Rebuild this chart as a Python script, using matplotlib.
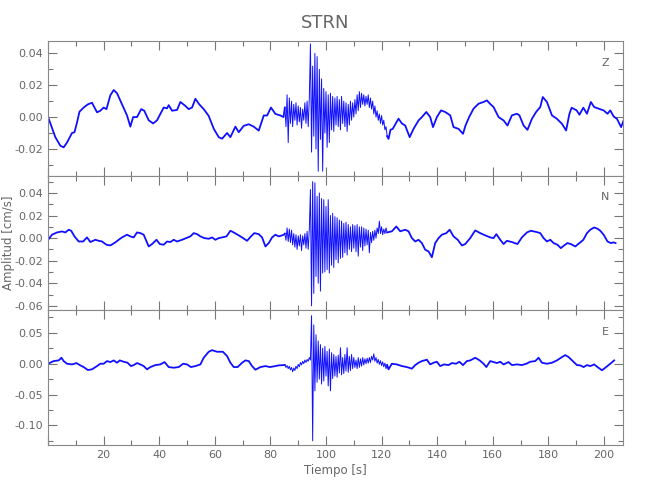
import numpy as np
import matplotlib
matplotlib.use('Agg')
import matplotlib.pyplot as plt
from matplotlib.ticker import MultipleLocator, FormatStrFormatter, FuncFormatter

# ====================================================================
# STRN - three component seismogram (Z, N, E)
# ====================================================================

# --- data ---
# quiet parts: (time [s], amplitude [cm/s]) samples
z_t = [0, 2.6, 4.4, 5.6, 6.8, 8.6, 9.5, 10.4, 11.3, 12.8, 14.3, 15.8, 17.6, 18.8, 20.0, 21.0,
       22.4, 23.6, 24.8, 26.6, 28.4, 29.6, 30.6, 32.0, 33.5, 34.6, 36.2, 37.8, 39.2, 40.4, 41.6,
       42.8, 43.4, 44.6, 46.4, 47.6, 49.4, 50.6, 51.8, 53.0, 54.4, 56.0, 57.8, 59.6, 61.4, 62.6,
       64.4, 65.6, 67.4, 68.6, 70.4, 72.2, 74.0, 75.8, 77.6, 78.8, 80.2, 81.8, 83.6, 84.7,
       122.5, 123.2, 124.0, 126.1, 127.3, 128.5, 130.1, 131.5, 133.3, 134.5, 136.1, 137.5, 138.5,
       139.9, 141.4, 142.9, 144.7, 145.9, 147.7, 149.3, 150.2, 151.5, 153.1, 154.9, 156.7, 157.9,
       159.0, 160.3, 162.1, 163.9, 165.3, 166.9, 168.7, 169.6, 171.1, 172.5, 174.1, 175.6, 177.1,
       178.0, 179.5, 181.3, 183.1, 184.9, 186.4, 187.6, 188.4, 190.2, 191.2, 192.6, 193.9, 195.3,
       196.5, 198.1, 199.9, 201.3, 202.3, 203.5, 204.7, 206.2, 207.0]
z_v = [0.0, -0.0126, -0.018, -0.019, -0.016, -0.010, -0.0095, -0.0034, 0.0034, 0.006, 0.008,
       0.009, 0.003, 0.004, 0.006, 0.005, 0.0137, 0.017, 0.015, 0.008, 0.001, -0.006, 0.0, 0.0,
       0.005, 0.004, -0.002, -0.004, -0.002, 0.002, 0.006, 0.0055, 0.0075, 0.004, 0.0045, 0.0095,
       0.007, 0.005, 0.006, 0.0115, 0.008, 0.005, 0.0007, -0.0073, -0.0126, -0.0136, -0.010,
       -0.0126, -0.006, -0.0095, -0.0055, -0.0045, -0.006, -0.0085, 0.001, 0.001, 0.006, 0.002,
       0.001, 0.0,
       -0.0137, -0.008, -0.0074, -0.001, -0.004, -0.0053, -0.0126, -0.0074, -0.0021, 0.0, 0.0032,
       0.0, -0.0063, 0.0, 0.0042, 0.0032, 0.0011, -0.0063, -0.0074, -0.0105, -0.0053, 0.0, 0.0053,
       0.0084, 0.0095, 0.0105, 0.0084, 0.0063, 0.0, -0.0021, -0.0053, 0.0011, 0.0021, 0.0011,
       -0.0053, -0.008, -0.0011, 0.0032, 0.0063, 0.0126, 0.0095, 0.0011, -0.0011, -0.0042, -0.0084,
       0.0021, 0.0059, 0.0042, 0.0015, 0.0059, 0.0021, 0.0095, 0.0063, 0.0053, 0.0042, 0.0021,
       0.0042, 0.0004, -0.0011, -0.0063, -0.0025]

n_t = [0, 1.4, 3.2, 5.0, 6.2, 7.4, 8.3, 9.5, 11.0, 12.6, 14.0, 15.2, 17.0, 18.2, 19.4, 21.0,
       22.4, 24.2, 25.4, 26.6, 28.4, 29.6, 30.8, 32.0, 33.2, 34.4, 36.2, 37.4, 39.0, 40.2, 41.6,
       42.8, 44.0, 45.2, 46.4, 48.2, 49.7, 51.2, 52.4, 53.6, 54.8, 56.2, 57.8, 59.0, 60.2, 61.4,
       62.6, 64.2, 65.6, 66.8, 68.2, 69.8, 71.6, 73.0, 74.2, 75.8, 77.0, 78.2, 79.4, 80.6, 81.8,
       83.0, 84.2, 84.8,
       123.7, 125.3, 126.7, 128.5, 129.7, 130.9, 132.1, 133.3, 134.5, 135.7, 136.9, 138.1, 139.3,
       140.5, 141.7, 143.3, 144.5, 145.9, 147.4, 148.9, 150.1, 151.9, 153.7, 155.5, 157.3, 159.1,
       160.3, 161.3, 162.7, 163.9, 165.1, 166.9, 168.9, 170.5, 172.3, 173.7, 175.9, 177.1, 178.3,
       179.5, 180.7, 181.9, 183.3, 184.5, 185.7, 186.9, 188.1, 189.7, 191.2, 192.6, 193.9, 195.1,
       196.5, 197.7, 198.7, 199.9, 201.3, 202.5, 203.5, 204.2]
n_v = [-0.0015, 0.003, 0.005, 0.0059, 0.005, 0.0074, 0.0065, 0.0015, -0.003, -0.003, 0.0006,
       -0.0035, -0.0015, -0.0024, -0.003, -0.0059, -0.0065, -0.0038, -0.0015, 0.0006, 0.003,
       0.0015, 0.0006, 0.005, 0.0044, 0.003, -0.0074, -0.0053, -0.0015, -0.0053, -0.0059, -0.003,
       -0.0035, -0.0015, -0.003, -0.0015, 0.0, 0.0015, 0.0044, 0.0035, 0.0015, 0.0, -0.0006,
       0.0006, -0.0015, 0.0, 0.0006, 0.0015, 0.0065, 0.005, 0.003, 0.0006, -0.0024, 0.0015, 0.0044,
       0.0035, 0.0006, -0.0074, -0.0044, 0.0006, 0.003, 0.0015, 0.0024, 0.003,
       0.006, 0.0103, 0.006, 0.0074, 0.006, 0.0, -0.003, -0.0015, -0.0044, -0.0103, -0.0118,
       -0.017, -0.0044, 0.0, 0.003, 0.0044, 0.0074, 0.0015, -0.0015, -0.0065, -0.0053, 0.0, 0.0068,
       0.0044, 0.0024, 0.0006, 0.0, 0.0035, -0.0015, -0.0053, -0.0024, -0.0035, -0.0053, 0.0006,
       0.005, 0.0065, 0.0053, 0.0044, 0.0, -0.003, -0.0015, -0.0044, -0.0059, -0.0089, -0.0065,
       -0.0044, -0.0053, -0.0074, -0.0044, -0.0015, 0.0044, 0.0074, 0.0094, 0.0083, 0.0065, 0.003,
       -0.003, -0.0044, -0.0038, -0.0044]

e_t = [0, 2.0, 3.8, 4.8, 5.6, 6.8, 8.6, 10.2, 11.6, 12.8, 14.3, 15.8, 17.6, 18.8, 20.0, 21.2,
       22.4, 23.6, 24.8, 25.8, 27.2, 28.6, 29.8, 30.8, 32.0, 33.2, 34.4, 35.6, 36.8, 38.6, 40.4,
       41.9, 43.4, 45.2, 47.0, 48.6, 50.0, 51.4, 53.0, 54.8, 56.0, 57.8, 59.0, 60.8, 62.9, 64.4,
       65.6, 66.8, 68.2, 69.8, 71.0, 72.2, 73.4, 74.6, 76.4, 78.2, 79.8, 81.2, 83.0, 84.8,
       122.5, 123.7, 125.5, 127.3, 129.1, 130.9, 132.1, 133.3, 134.5, 136.3, 137.5, 138.7, 139.9,
       141.1, 142.5, 144.1, 145.3, 146.8, 148.0, 149.3, 150.7, 151.9, 153.7, 155.3, 156.7, 157.7,
       159.1, 160.3, 161.5, 162.7, 163.9, 165.7, 166.9, 168.7, 170.5, 172.1, 173.5, 175.3, 176.5,
       177.7, 179.5, 181.3, 183.1, 184.9, 186.1, 187.3, 188.8, 190.3, 191.5, 192.7, 193.9, 195.1,
       196.5, 197.7, 199.3, 200.5, 202.3, 203.7]
e_v = [0.0, 0.0043, 0.0054, 0.0097, 0.0043, 0.0, -0.0011, 0.0011, -0.0027, -0.0054, -0.0102,
       -0.0091, -0.0038, 0.0, 0.0, 0.0043, 0.0027, 0.0054, 0.0016, 0.0054, 0.0032, 0.0016, -0.0038,
       -0.0022, 0.0011, -0.0011, -0.0038, -0.0091, -0.0054, -0.0022, -0.0011, 0.0027, -0.0054,
       -0.0065, -0.0054, 0.0, -0.0011, -0.0054, -0.0038, -0.0011, 0.0097, 0.0194, 0.022, 0.0194,
       0.0194, 0.0124, 0.0016, -0.0054, -0.0054, 0.0016, 0.0054, 0.0043, -0.0038, -0.0097, -0.0054,
       -0.0038, -0.0054, -0.0043, -0.0027, -0.0022,
       -0.0091, 0.0, -0.0011, -0.0038, -0.0054, -0.008, -0.0022, 0.0016, 0.0043, 0.0065, -0.0011,
       0.0016, 0.0032, -0.0038, -0.0011, -0.0022, 0.0011, 0.0, 0.0032, -0.0022, 0.0043, 0.0054,
       0.0097, 0.0054, 0.0, -0.0054, 0.0043, 0.0027, 0.0011, 0.0032, -0.0011, 0.0027, -0.0022,
       -0.0011, -0.0022, 0.0, 0.0032, 0.0043, 0.0097, 0.0016, 0.0, 0.0016, 0.0054, 0.0108, 0.014,
       0.0108, 0.0043, -0.0022, -0.0027, -0.0054, -0.0022, -0.0038, -0.0011, -0.0054, -0.0106,
       -0.0065, 0.0, 0.0054]

# strong-motion part: successive peaks every 0.4 s from 85.2 s
burst_start = 85.2
burst_dt = 0.4
z_burst = [0.006, -0.006, 0.014, -0.016, 0.012, -0.004, 0.010, -0.006, 0.008, -0.002, 0.009,
           -0.005, 0.007, -0.003, 0.006, -0.007, 0.005, -0.002, 0.009, -0.004, 0.010, -0.006,
           0.012, 0.046, -0.022, 0.032, -0.012, 0.040, -0.020, 0.038, -0.034, 0.030, -0.014,
           0.024, -0.034, 0.018, -0.010, 0.016, -0.019, 0.014, -0.016, 0.015, -0.008, 0.013,
           -0.009, 0.012, -0.005, 0.013, -0.006, 0.011, -0.008, 0.013, -0.004, 0.010, -0.006,
           0.009, -0.009, 0.008, -0.005, 0.010, -0.002, 0.009, 0.000, 0.011, 0.002, 0.014, 0.004,
           0.016, 0.006, 0.015, 0.008, 0.014, 0.007, 0.013, 0.008, 0.014, 0.006, 0.012, 0.005,
           0.010, 0.002, 0.007, 0.000, 0.004, -0.002, 0.002, -0.004, 0.001, -0.005, -0.002,
           -0.008, -0.006, -0.012]
n_burst = [0.004, -0.002, 0.009, -0.003, 0.008, -0.004, 0.007, -0.006, 0.004, -0.008, 0.003,
           -0.010, 0.002, -0.007, 0.003, -0.011, 0.002, -0.006, 0.004, -0.009, 0.006, -0.010,
           0.008, 0.043, -0.060, 0.050, -0.049, 0.049, -0.034, 0.037, -0.040, 0.040, -0.047,
           0.035, -0.031, 0.034, -0.030, 0.028, -0.028, 0.034, -0.031, 0.020, -0.024, 0.022,
           -0.026, 0.019, -0.019, 0.018, -0.022, 0.016, -0.018, 0.015, -0.017, 0.013, -0.013,
           0.014, -0.015, 0.012, -0.010, 0.010, -0.012, 0.012, -0.009, 0.011, -0.012, 0.012,
           -0.016, 0.010, -0.008, 0.010, -0.011, 0.009, -0.007, 0.008, -0.006, 0.007, -0.013,
           0.005, -0.004, 0.006, -0.002, 0.007, 0.000, 0.009, 0.004, 0.015, 0.004, 0.010, 0.003,
           0.008, 0.004, 0.009, 0.005]
e_burst = [-0.002, -0.006, -0.003, -0.008, -0.004, -0.010, -0.006, -0.013, -0.007, -0.011,
           -0.004, -0.008, -0.001, -0.005, 0.002, -0.002, 0.004, 0.000, 0.006, 0.002, 0.007,
           0.004, 0.010, 0.006, 0.078, -0.125, 0.063, -0.044, 0.047, -0.030, 0.037, -0.025,
           0.031, -0.033, 0.025, -0.028, 0.028, -0.020, 0.020, -0.036, 0.024, -0.044, 0.018,
           -0.024, 0.015, -0.020, 0.012, -0.022, 0.014, -0.015, 0.026, -0.018, 0.010, -0.016,
           0.015, -0.012, 0.026, -0.014, 0.012, -0.011, 0.015, -0.008, 0.010, -0.006, 0.006,
           -0.008, 0.010, -0.006, 0.008, -0.004, 0.010, -0.002, 0.008, 0.000, 0.009, 0.001,
           0.010, 0.002, 0.012, 0.006, 0.016, 0.004, 0.010, 0.001, 0.007, -0.001, 0.005, -0.003,
           0.003, -0.005, 0.001, -0.008, -0.002]

components = ['Z', 'N', 'E']
quiet_t = [z_t, n_t, e_t]
quiet_v = [z_v, n_v, e_v]
bursts = [z_burst, n_burst, e_burst]
ylims = [(-0.0368, 0.0478), (-0.064, 0.0553), (-0.1318, 0.0866)]
ymajor = [0.02, 0.02, 0.05]
yminor = [0.01, 0.01, 0.025]

# --- plot ---
gray = '#666666'
blue = '#1010ff'
plt.rcParams['font.family'] = 'DejaVu Sans'
fig = plt.figure(figsize=(6.5, 5.0), dpi=100)
gs = fig.add_gridspec(3, 1, left=0.074, right=0.959, top=0.918, bottom=0.11, hspace=0)
axes = [fig.add_subplot(gs[i]) for i in range(3)]

for ax, comp, qt, qv, b, yl, ymj, ymn in zip(axes, components, quiet_t, quiet_v, bursts,
                                             ylims, ymajor, yminor):
    qt = np.asarray(qt)
    qv = np.asarray(qv)
    bt = burst_start + burst_dt*np.arange(len(b))
    pre = qt < burst_start
    post = ~pre
    # quiet parts drawn a bit heavier, strong motion with a thin line
    ax.plot(np.append(qt[pre], bt[0]), np.append(qv[pre], b[0]), color=blue, lw=1.3)
    ax.plot(bt, b, color=blue, lw=0.7)
    ax.plot(np.insert(qt[post], 0, bt[-1]), np.insert(qv[post], 0, b[-1]), color=blue, lw=1.3)

    ax.set_xlim(0, 207)
    ax.set_ylim(*yl)
    ax.xaxis.set_major_locator(MultipleLocator(20))
    ax.xaxis.set_minor_locator(MultipleLocator(10))
    ax.xaxis.set_major_formatter(FuncFormatter(lambda x, pos: '' if x == 0 else '%d' % x))
    ax.yaxis.set_major_locator(MultipleLocator(ymj))
    ax.yaxis.set_minor_locator(MultipleLocator(ymn))
    ax.yaxis.set_major_formatter(FormatStrFormatter('%.2f'))
    ax.tick_params(which='both', direction='in', top=True, right=True,
                   colors='#777777', labelcolor=gray, labelsize=8, width=0.8)
    ax.tick_params(which='major', length=6.5)
    ax.tick_params(which='minor', length=3.3)
    for s in ax.spines.values():
        s.set_color('#888888')
        s.set_linewidth(0.8)
    ax.text(0.968, 0.84, comp, transform=ax.transAxes, color=gray, fontsize=8,
            ha='center', va='center')
    if ax is not axes[-1]:
        ax.tick_params(labelbottom=False)

axes[-1].set_xlabel('Tiempo [s]', color=gray, fontsize=8.5, labelpad=3)
fig.text(0.5, 0.953, 'STRN', color=gray, fontsize=13, ha='center', va='center')
fig.text(0.013, 0.515, 'Amplitud [cm/s]', color=gray, fontsize=8.5, rotation=90,
         ha='center', va='center')

plt.savefig('out.png', dpi=100)
